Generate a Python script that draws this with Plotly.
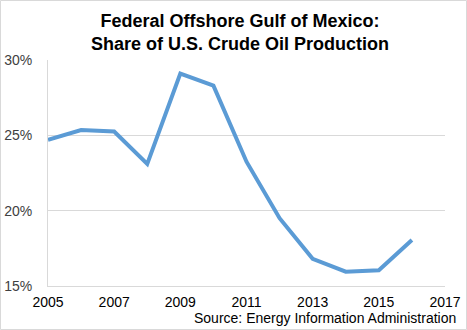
import plotly.graph_objects as go

# Federal offshore Gulf of Mexico share of U.S. crude oil production (%)
years = [2005, 2006, 2007, 2008, 2009, 2010, 2011, 2012, 2013, 2014, 2015, 2016]
share_pct = [24.7, 25.35, 25.25, 23.1, 29.1, 28.3, 23.25, 19.5, 16.8, 15.95, 16.05, 18.05]

x_ticks = [2005, 2007, 2009, 2011, 2013, 2015, 2017]
y_ticks = [15, 20, 25, 30]

FONT = "Liberation Sans, Arial, sans-serif"
PLOT_W, PLOT_H = 397, 226

fig = go.Figure(
    go.Scatter(
        x=years,
        y=share_pct,
        mode="lines",
        line=dict(color="#5B9BD5", width=4),
        hoverinfo="skip",
    )
)

fig.update_layout(
    width=467,
    height=330,
    margin=dict(l=48, r=22, t=60, b=44),
    paper_bgcolor="white",
    plot_bgcolor="white",
    showlegend=False,
    font=dict(family=FONT, size=14, color="#404040"),
)

# Two-line bold title
fig.add_annotation(
    text="<b>Federal Offshore Gulf of Mexico:<br>Share of U.S. Crude Oil Production</b>",
    xref="paper",
    yref="paper",
    x=(240 - 48) / PLOT_W,
    y=1 + (60 - 32) / PLOT_H,
    xanchor="center",
    yanchor="middle",
    showarrow=False,
    font=dict(family=FONT, size=18, color="black"),
)

fig.update_xaxes(
    range=[2005, 2017],
    tickvals=x_ticks,
    ticktext=[str(v) for v in x_ticks],
    showgrid=False,
    showline=True,
    linecolor="#d9d9d9",
    linewidth=1,
    ticks="",
    zeroline=False,
    automargin=False,
    ticklabelstandoff=3,
    tickfont=dict(family=FONT, size=14, color="black"),
)

fig.update_yaxes(
    range=[15, 30],
    tickvals=y_ticks,
    ticktext=[f"{v}%" for v in y_ticks],
    showgrid=True,
    gridcolor="#d9d9d9",
    gridwidth=1,
    showline=True,
    linecolor="#d9d9d9",
    linewidth=1,
    ticks="",
    zeroline=False,
    automargin=False,
    ticklabelstandoff=12,
    tickfont=dict(family=FONT, size=14, color="#404040"),
)

# Source note under the plot
fig.add_annotation(
    text="Source: Energy Information Administration",
    xref="paper",
    yref="paper",
    x=(458 - 48) / PLOT_W,
    y=-(318 - 286) / PLOT_H,
    xanchor="right",
    yanchor="middle",
    showarrow=False,
    font=dict(family=FONT, size=14, color="black"),
)

# Outer chart border
fig.add_shape(
    type="rect",
    xref="paper",
    yref="paper",
    x0=-47.5 / PLOT_W,
    x1=1 + 21.5 / PLOT_W,
    y0=-43.5 / PLOT_H,
    y1=1 + 59.5 / PLOT_H,
    line=dict(color="#d9d9d9", width=1),
    fillcolor="rgba(0,0,0,0)",
    layer="below",
)

fig.write_html("out.html")
